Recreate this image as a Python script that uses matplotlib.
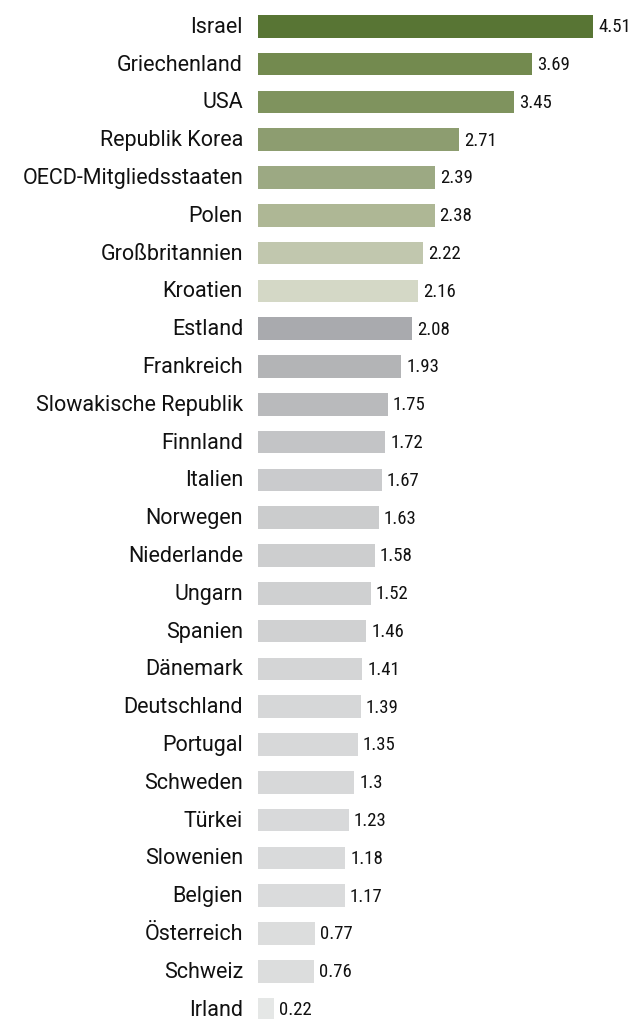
import matplotlib
matplotlib.use("Agg")
from matplotlib import pyplot as plt
from matplotlib import font_manager

countries = ['Israel', 'Griechenland', 'USA', 'Republik Korea', 'OECD-Mitgliedsstaaten',
             'Polen', 'Großbritannien', 'Kroatien', 'Estland', 'Frankreich',
             'Slowakische Republik', 'Finnland', 'Italien', 'Norwegen', 'Niederlande',
             'Ungarn', 'Spanien', 'Dänemark', 'Deutschland', 'Portugal', 'Schweden',
             'Türkei', 'Slowenien', 'Belgien', 'Österreich', 'Schweiz', 'Irland']
values = [4.51, 3.69, 3.45, 2.71, 2.39, 2.38, 2.22, 2.16, 2.08, 1.93, 1.75, 1.72, 1.67,
          1.63, 1.58, 1.52, 1.46, 1.41, 1.39, 1.35, 1.3, 1.23, 1.18, 1.17, 0.77, 0.76, 0.22]
colors = ['#587534', '#738a4f', '#7f935e', '#8d9d70', '#9ca983', '#aeb795', '#c1c7ae',
          '#d4d8c6', '#a9aaae', '#b3b4b6', '#b9babc', '#c3c4c6', '#cacbcd', '#cbcccd',
          '#cdcecf', '#cfd0d1', '#d0d1d2', '#d4d5d6', '#d6d7d8', '#d7d8d9', '#d7d8d9',
          '#d8d9da', '#d9dadb', '#dadbdc', '#dcdddd', '#dcdddd', '#e5e7e6']

# Namen in Roboto, Zahlen in einer schmalen Schrift
names = {f.name for f in font_manager.fontManager.ttflist}
label_family = ['Roboto', 'DejaVu Sans']
narrow = [f for f in ['Roboto Condensed', 'Liberation Sans Narrow'] if f in names]
value_family = narrow[:1] + ['Roboto', 'DejaVu Sans']

W, H = 634, 1020
fig = plt.figure(figsize=(W / 100, H / 100), dpi=100)

# Pixelgeometrie: Balken ab x=257, 74.4 px pro Einheit, Zeilen alle 37.8 px ab y=27
left_px, unit_px = 257.5, 74.4
row0, step = 27.3, 37.8
xmax = (W - left_px) / unit_px
ax = fig.add_axes([left_px / W, 0, 1 - left_px / W, 1])
ax.set_xlim(0, xmax)
ax.set_ylim((H - row0) / step, -row0 / step)

pos = list(range(len(countries)))
ax.barh(pos, values, height=0.6, color=colors)

for i, (name, v) in enumerate(zip(countries, values)):
    ax.text(-14.5 / unit_px, i, name, ha='right', va='center', fontsize=15.5,
            color='#111111', family=label_family)
    ax.text(v + 5 / unit_px, i, f'{v:g}', ha='left', va='center', fontsize=13.5,
            color='#111111', family=value_family)

ax.axis('off')
fig.savefig('out.png', dpi=100)
